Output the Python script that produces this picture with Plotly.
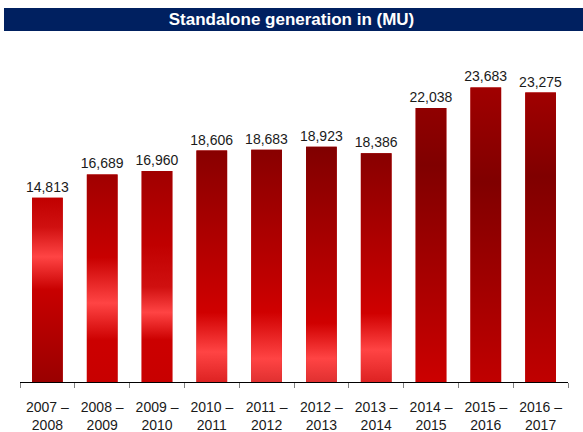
import plotly.graph_objects as go

# ---- data ----
periods = ["2007 –<br>2008", "2008 –<br>2009", "2009 –<br>2010", "2010 –<br>2011",
           "2011 –<br>2012", "2012 –<br>2013", "2013 –<br>2014", "2014 –<br>2015",
           "2015 –<br>2016", "2016 –<br>2017"]
generation_mu = [14813, 16689, 16960, 18606, 18683, 18923, 18386, 22038, 23683, 23275]
title_text = "Standalone generation in (MU)"

# ---- styles (gradient per bar, 0 = bottom, 1 = top) ----
gradients = [
    [[0, "#9A0000"], [0.5, "#C80000"], [0.68, "#FF4444"], [0.84, "#D01010"], [1, "#C00000"]],
    [[0, "#C80000"], [0.2, "#CC0000"], [0.38, "#FF4444"], [0.6, "#C80000"], [1, "#A00000"]],
    [[0, "#C80000"], [0.2, "#CC0000"], [0.33, "#FF4444"], [0.45, "#D01010"], [0.65, "#C00000"], [1, "#A00000"]],
    [[0, "#DD2222"], [0.13, "#FF4444"], [0.3, "#D00000"], [0.45, "#C00000"], [1, "#880000"]],
    [[0, "#E03030"], [0.1, "#FF4444"], [0.3, "#D00000"], [0.43, "#C00000"], [1, "#880000"]],
    [[0, "#E03030"], [0.1, "#FF4444"], [0.25, "#D00000"], [0.36, "#C00000"], [1, "#800000"]],
    [[0, "#DD2222"], [0.14, "#FF4444"], [0.3, "#D00000"], [0.44, "#C00000"], [1, "#880000"]],
    [[0, "#CC0000"], [0.79, "#800000"], [1, "#900000"]],
    [[0, "#C00000"], [0.68, "#800000"], [1, "#A00000"]],
    [[0, "#C00000"], [0.71, "#800000"], [1, "#A00000"]],
]
bar_width = 0.56
font_family = "Liberation Sans, Arial, sans-serif"

xs = list(range(len(periods)))
fig = go.Figure()

fig.add_trace(go.Bar(
    x=xs, y=generation_mu, width=bar_width,
    marker=dict(color="#C00000", line=dict(width=0)),
    text=[f"{v:,}" for v in generation_mu], textposition="outside",
    constraintext="none",
    textfont=dict(family=font_family, size=14, color="#1a1a1a"),
    cliponaxis=False, hoverinfo="skip", showlegend=False,
))

half = bar_width / 2
for i, v in enumerate(generation_mu):
    fig.add_trace(go.Scatter(
        x=[i - half, i + half, i + half, i - half, i - half],
        y=[0, 0, v, v, 0],
        mode="lines", line=dict(width=0), fill="toself",
        fillgradient=dict(type="vertical", colorscale=gradients[i], start=0, stop=v),
        hoverinfo="skip", showlegend=False,
    ))

fig.update_layout(
    width=583, height=432,
    margin=dict(l=20, r=15, t=40, b=50),
    paper_bgcolor="white", plot_bgcolor="white",
    bargap=0.44,
    title=dict(text=f"<b>{title_text}</b>", x=0.5, xanchor="center",
               y=1 - 19.5 / 432, yanchor="middle", yref="container",
               font=dict(family=font_family, size=17, color="white")),
    xaxis=dict(range=[-0.5, 9.5], tickmode="array", tickvals=xs, ticktext=periods,
               ticks="", showgrid=False, zeroline=False, ticklabelstandoff=12,
               automargin=False,
               showline=True, linecolor="#000000", linewidth=1,
               tickfont=dict(family=font_family, size=14, color="#1a1a1a"),
               minor=dict(tickmode="array", tickvals=[k - 0.5 for k in range(len(periods) + 1)],
                          ticks="outside", ticklen=5, tickcolor="#808080", showgrid=False)),
    yaxis=dict(range=[0, 27500], visible=False, showgrid=False, zeroline=False,
               automargin=False),
    shapes=[dict(type="rect", xref="paper", yref="paper",
                 x0=-0.0292, x1=1.03, y0=1.0263, y1=1.0936,
                 fillcolor="#002060", line=dict(width=0), layer="below")],
)

fig.write_html("out.html", config={"displayModeBar": False},
               post_script="document.body.style.margin='0';document.body.style.overflow='hidden';")
